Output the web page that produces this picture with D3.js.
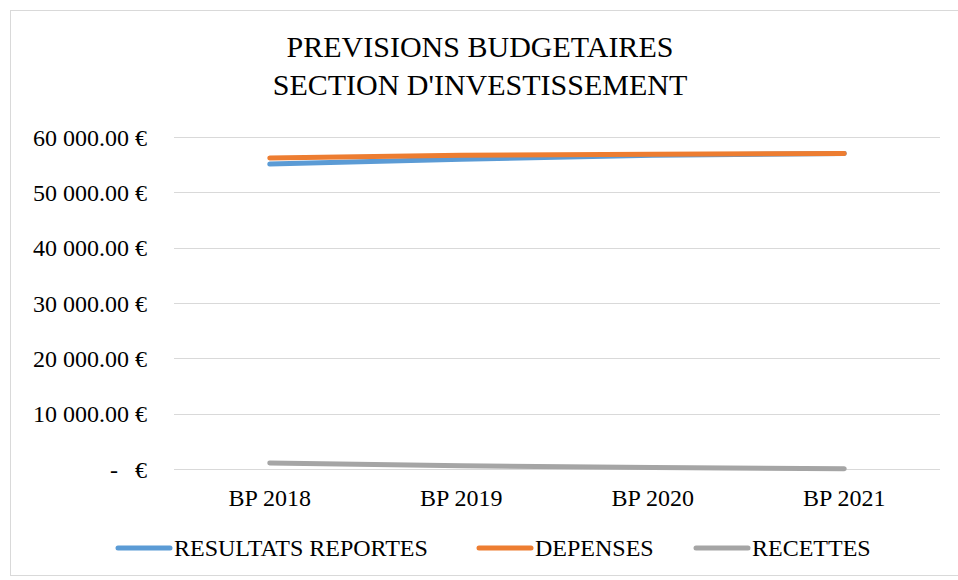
<!DOCTYPE html>
<html>
<head>
<meta charset="utf-8">
<script src="https://cdn.jsdelivr.net/npm/d3@7"></script>
<style>
  body { margin: 0; background: #fff; }
  svg text { font-family: "Liberation Serif", "DejaVu Serif", serif; fill: #000; white-space: pre; }
</style>
</head>
<body>
<svg id="chart" width="958" height="580"></svg>
<script>
// data
var categories = ["BP 2018", "BP 2019", "BP 2020", "BP 2021"];
var resultats = [55100, 56000, 56700, 57000];
var depenses = [56200, 56700, 56900, 57000];
var recettes = [1080, 600, 250, 50];
var yTicks = [0, 10000, 20000, 30000, 40000, 50000, 60000];
var seriesNames = ["RESULTATS REPORTES", "DEPENSES", "RECETTES"];
var seriesColors = ["#5b9bd5", "#ed7d31", "#a5a5a5"];

var svg = d3.select("#chart");
var plotLeft = 174, plotRight = 940, plotTop = 137, plotBottom = 469;

// frame
svg.append("rect")
  .attr("x", 10.5).attr("y", 10.5)
  .attr("width", 960).attr("height", 565)
  .attr("fill", "#fff")
  .attr("stroke", "#d9d9d9");

// title
svg.append("text")
  .attr("x", 480).attr("y", 57)
  .attr("text-anchor", "middle")
  .attr("font-size", 30)
  .text("PREVISIONS BUDGETAIRES");
svg.append("text")
  .attr("x", 480).attr("y", 95)
  .attr("text-anchor", "middle")
  .attr("font-size", 30)
  .text("SECTION D'INVESTISSEMENT");

var x = d3.scalePoint().domain(categories).range([plotLeft, plotRight]).padding(0.5);
var y = d3.scaleLinear().domain([0, 60000]).range([plotBottom, plotTop]);

// gridlines
svg.append("g")
  .selectAll("line")
  .data(yTicks)
  .join("line")
  .attr("x1", plotLeft).attr("x2", plotRight)
  .attr("y1", function(d) { return Math.round(y(d)) + 0.5; })
  .attr("y2", function(d) { return Math.round(y(d)) + 0.5; })
  .attr("stroke", "#d9d9d9")
  .attr("stroke-width", 1);

// y labels (zero is shown as "-   €")
var fmt = function(d) {
  return d3.format(",.2f")(d).replace(/,/g, " ") + " €";
};
var yLab = svg.append("g");
yLab.selectAll("text")
  .data(yTicks.filter(function(d) { return d !== 0; }))
  .join("text")
  .attr("x", 147)
  .attr("y", function(d) { return y(d) + 8.5; })
  .attr("text-anchor", "end")
  .attr("font-size", 24)
  .text(fmt);
yLab.append("text")
  .attr("x", 114).attr("y", y(0) + 8.5)
  .attr("text-anchor", "middle")
  .attr("font-size", 24)
  .text("-");
yLab.append("text")
  .attr("x", 147).attr("y", y(0) + 8.5)
  .attr("text-anchor", "end")
  .attr("font-size", 24)
  .text("€");

// x labels
svg.append("g")
  .selectAll("text")
  .data(categories)
  .join("text")
  .attr("x", function(d) { return x(d); })
  .attr("y", 505.5)
  .attr("text-anchor", "middle")
  .attr("font-size", 24)
  .text(function(d) { return d; });

// lines
var allSeries = [resultats, depenses, recettes];
var line = d3.line()
  .x(function(d, i) { return x(categories[i]); })
  .y(function(d) { return y(d); });

allSeries.forEach(function(vals, i) {
  svg.append("path")
    .datum(vals)
    .attr("d", line)
    .attr("fill", "none")
    .attr("stroke", seriesColors[i])
    .attr("stroke-width", 5)
    .attr("stroke-linecap", "round")
    .attr("stroke-linejoin", "round");
});

// legend
var legendX = [116, 477, 694];
var legend = svg.append("g");
seriesNames.forEach(function(name, i) {
  legend.append("line")
    .attr("x1", legendX[i] + 2).attr("x2", legendX[i] + 54)
    .attr("y1", 548).attr("y2", 548)
    .attr("stroke", seriesColors[i])
    .attr("stroke-width", 5)
    .attr("stroke-linecap", "round");
  legend.append("text")
    .attr("x", legendX[i] + 58)
    .attr("y", 555.5)
    .attr("font-size", 24)
    .text(name);
});
</script>
</body>
</html>
